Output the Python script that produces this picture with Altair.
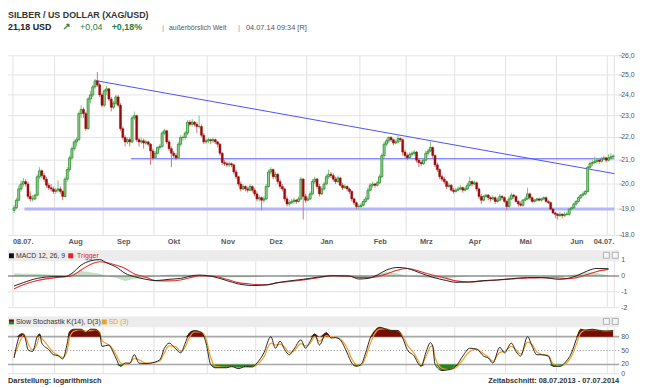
import altair as alt
import pandas as pd

# ---------------- price data (daily OHLC, trading-day index 0..259) ----------------
opens = [18.95, 19.05, 19.35, 19.8, 20.0, 20.1, 20.0, 19.5, 19.4, 19.4,
         19.55, 20.3, 20.55, 20.35, 20.2, 19.95, 19.85, 19.8, 19.7, 19.75,
         19.8, 19.7, 19.5, 20.2, 20.6, 21.1, 21.5, 21.8, 21.9, 23.1,
         23.3, 23.1, 22.4, 23.8, 24.0, 24.4, 24.7, 24.5, 24.0, 23.5,
         24.2, 24.3, 23.8, 23.4, 23.6, 23.9, 23.5, 22.4, 22.0, 21.8,
         21.9, 21.8, 22.9, 23.0, 21.9, 21.8, 21.85, 21.75, 21.8, 21.7,
         21.4, 21.1, 21.3, 21.55, 21.6, 22.2, 22.3, 21.8, 21.5, 21.3,
         21.2, 21.1, 21.7, 22.0, 22.0, 22.2, 22.7, 22.6, 22.7, 22.6,
         22.5, 22.5, 22.1, 21.8, 21.85, 21.9, 21.85, 21.9, 21.8, 21.7,
         21.3, 20.9, 20.85, 20.8, 20.85, 20.8, 20.5, 20.3, 20.0, 19.8,
         19.9, 19.8, 19.75, 19.9, 19.75, 19.6, 19.4, 19.45, 19.35, 19.4,
         19.9, 20.5, 20.6, 20.3, 20.4, 20.1, 19.9, 19.8, 19.4, 19.2,
         19.25, 19.3, 19.35, 19.3, 19.4, 20.2, 19.5, 19.35, 19.4, 19.6,
         20.1, 20.2, 19.9, 19.6, 19.8, 20.0, 20.3, 20.4, 20.35, 20.2,
         20.1, 20.25, 19.95, 19.85, 19.9, 19.8, 19.7, 19.4, 19.25, 19.1,
         19.1, 19.15, 19.3, 19.4, 19.75, 19.95, 20.0, 19.95, 20.05, 20.3,
         21.2, 21.7, 21.85, 22.0, 21.9, 21.75, 21.8, 21.95, 21.9, 21.35,
         21.2, 21.1, 21.25, 21.3, 21.35, 21.0, 20.9, 20.85, 21.0, 21.3,
         21.4, 21.55, 21.2, 20.8, 20.6, 20.3, 20.2, 20.1, 19.9, 19.95,
         19.75, 19.7, 19.75, 19.8, 19.85, 19.75, 19.8, 19.95, 20.1, 20.0,
         20.05, 19.8, 19.5, 19.35, 19.5, 19.55, 19.45, 19.4, 19.45, 19.3,
         19.35, 19.5, 19.45, 19.3, 19.1, 19.4, 19.55, 19.5, 19.3, 19.2,
         19.15, 19.35, 19.4, 19.6, 19.45, 19.3, 19.35, 19.4, 19.35, 19.4,
         19.45, 19.3, 19.25, 19.0, 18.85, 18.8, 18.75, 18.8, 18.75, 18.8,
         18.8, 19.0, 19.05, 19.2, 19.3, 19.45, 19.55, 19.6, 19.7, 20.7,
         20.85, 20.9, 20.95, 21.0, 20.95, 21.05, 21.1, 21.0, 21.1, 21.15]
highs = [19.15, 19.45, 19.95, 20.15, 20.25, 20.2, 20.1, 19.7, 19.55, 19.6,
         20.4, 20.7, 20.6, 20.45, 20.3, 20.05, 20.0, 19.9, 19.85, 20.15,
         19.9, 19.75, 20.3, 20.7, 21.2, 21.6, 21.9, 22.0, 23.2, 23.5,
         23.4, 23.2, 23.9, 24.2, 24.5, 24.8, 25.15, 24.6, 24.1, 24.3,
         24.45, 24.35, 23.9, 23.7, 24.0, 24.0, 23.6, 22.5, 22.1, 22.0,
         22.0, 23.0, 23.2, 23.05, 22.0, 22.0, 21.95, 21.9, 21.85, 21.75,
         21.5, 21.4, 21.6, 21.7, 22.3, 22.4, 22.35, 21.9, 21.6, 21.4,
         21.3, 21.8, 22.1, 22.1, 22.3, 22.8, 22.8, 22.85, 22.75, 22.7,
         23.0, 22.6, 22.2, 21.95, 22.0, 21.95, 22.0, 21.95, 21.85, 21.75,
         21.35, 21.0, 20.95, 20.95, 20.9, 20.85, 20.6, 20.35, 20.1, 20.0,
         19.95, 19.9, 20.0, 19.95, 19.85, 19.7, 19.55, 19.5, 19.5, 20.0,
         20.6, 20.7, 20.65, 20.5, 20.45, 20.2, 20.0, 19.85, 19.5, 19.35,
         19.4, 19.45, 19.4, 19.5, 20.3, 20.25, 19.6, 19.5, 19.7, 20.2,
         20.3, 20.25, 20.0, 19.9, 20.1, 20.4, 20.6, 20.5, 20.45, 20.3,
         20.35, 20.3, 20.05, 20.0, 19.95, 19.85, 19.75, 19.45, 19.3, 19.2,
         19.25, 19.4, 19.5, 19.85, 20.05, 20.1, 20.05, 20.15, 20.4, 21.3,
         21.8, 21.95, 22.05, 22.05, 21.95, 21.9, 22.15, 22.0, 21.95, 21.45,
         21.3, 21.35, 21.4, 21.45, 21.4, 21.1, 21.0, 21.1, 21.4, 21.5,
         21.8, 21.6, 21.25, 20.9, 20.65, 20.4, 20.3, 20.15, 20.05, 20.0,
         19.85, 19.85, 19.9, 19.95, 19.9, 19.9, 20.05, 20.3, 20.15, 20.15,
         20.1, 19.85, 19.6, 19.55, 19.6, 19.6, 19.5, 19.55, 19.5, 19.45,
         19.6, 19.55, 19.5, 19.35, 19.5, 19.65, 19.6, 19.55, 19.35, 19.3,
         19.4, 19.5, 19.85, 19.65, 19.5, 19.4, 19.45, 19.45, 19.45, 19.5,
         19.5, 19.35, 19.3, 19.05, 18.9, 18.85, 18.9, 18.85, 18.9, 18.9,
         19.05, 19.1, 19.25, 19.35, 19.5, 19.6, 19.7, 19.75, 20.75, 20.95,
         21.0, 21.15, 21.1, 21.05, 21.15, 21.2, 21.15, 21.25, 21.3, 21.25]
lows = [18.85, 19.0, 19.3, 19.7, 19.9, 19.9, 19.4, 19.3, 19.3, 19.35,
        19.5, 20.2, 20.25, 20.1, 19.85, 19.75, 19.7, 19.6, 19.6, 19.65,
        19.6, 19.35, 19.45, 20.1, 20.5, 21.0, 21.4, 21.6, 21.85, 22.9,
        22.9, 22.3, 22.35, 23.6, 23.9, 24.3, 24.4, 23.9, 23.4, 23.4,
        24.0, 23.7, 23.2, 23.3, 23.5, 23.4, 22.3, 21.9, 21.6, 21.7,
        21.6, 21.75, 22.8, 21.8, 21.6, 21.7, 21.5, 21.65, 21.6, 20.8,
        21.0, 21.05, 21.25, 21.45, 21.55, 22.1, 21.7, 21.4, 20.7, 21.1,
        21.0, 21.05, 21.6, 21.85, 21.9, 22.1, 22.5, 22.5, 22.5, 22.2,
        22.4, 22.0, 21.7, 21.7, 21.75, 21.7, 21.75, 21.7, 21.55, 21.2,
        20.8, 20.75, 20.7, 20.7, 20.7, 20.4, 20.2, 19.9, 19.7, 19.75,
        19.7, 19.65, 19.7, 19.65, 19.5, 19.3, 19.3, 18.95, 19.25, 19.35,
        19.85, 20.4, 20.2, 20.2, 20.0, 19.8, 19.7, 19.3, 19.1, 19.1,
        19.2, 19.2, 19.2, 19.25, 19.35, 18.6, 19.25, 19.3, 19.35, 19.55,
        20.0, 19.8, 19.5, 19.55, 19.75, 19.95, 20.2, 20.25, 20.1, 20.0,
        20.05, 19.9, 19.75, 19.8, 19.7, 19.6, 19.3, 19.15, 19.0, 19.0,
        19.05, 19.1, 19.25, 19.35, 19.7, 19.85, 19.85, 19.9, 20.0, 20.25,
        21.1, 21.6, 21.75, 21.8, 21.65, 21.7, 21.75, 21.8, 21.2, 21.1,
        21.0, 21.05, 21.15, 21.2, 20.9, 20.7, 20.75, 20.8, 20.95, 21.2,
        21.35, 21.1, 20.7, 20.5, 20.2, 20.1, 20.0, 19.8, 19.85, 19.7,
        19.6, 19.65, 19.7, 19.75, 19.65, 19.7, 19.75, 19.9, 19.9, 19.95,
        19.7, 19.4, 19.2, 19.3, 19.45, 19.35, 19.3, 19.35, 19.2, 19.25,
        19.3, 19.35, 19.25, 18.95, 19.05, 19.35, 19.4, 19.25, 19.1, 19.1,
        19.1, 19.3, 19.35, 19.35, 19.25, 19.25, 19.3, 19.3, 19.3, 19.35,
        19.25, 19.2, 18.95, 18.8, 18.65, 18.6, 18.7, 18.65, 18.7, 18.75,
        18.75, 18.95, 19.0, 19.15, 19.25, 19.4, 19.5, 19.55, 19.65, 20.6,
        20.75, 20.85, 20.85, 20.85, 20.9, 21.0, 20.9, 20.95, 21.05, 21.05]
closes = [19.05, 19.35, 19.8, 20.0, 20.1, 20.0, 19.5, 19.4, 19.4, 19.55,
          20.3, 20.55, 20.35, 20.2, 19.95, 19.85, 19.8, 19.7, 19.75, 19.8,
          19.7, 19.5, 20.2, 20.6, 21.1, 21.5, 21.8, 21.9, 23.1, 23.3,
          23.1, 22.4, 23.8, 24.0, 24.4, 24.7, 24.5, 24.0, 23.5, 24.2,
          24.3, 23.8, 23.4, 23.6, 23.9, 23.5, 22.4, 22.0, 21.8, 21.9,
          21.8, 22.9, 23.0, 21.9, 21.8, 21.85, 21.75, 21.8, 21.7, 21.4,
          21.1, 21.3, 21.55, 21.6, 22.2, 22.3, 21.8, 21.5, 21.3, 21.2,
          21.1, 21.7, 22.0, 22.0, 22.2, 22.7, 22.6, 22.7, 22.6, 22.5,
          22.5, 22.1, 21.8, 21.85, 21.9, 21.85, 21.9, 21.8, 21.7, 21.3,
          20.9, 20.85, 20.8, 20.85, 20.8, 20.5, 20.3, 20.0, 19.8, 19.9,
          19.8, 19.75, 19.9, 19.75, 19.6, 19.4, 19.45, 19.35, 19.4, 19.9,
          20.5, 20.6, 20.3, 20.4, 20.1, 19.9, 19.8, 19.4, 19.2, 19.25,
          19.3, 19.35, 19.3, 19.4, 20.2, 19.5, 19.35, 19.4, 19.6, 20.1,
          20.2, 19.9, 19.6, 19.8, 20.0, 20.3, 20.4, 20.35, 20.2, 20.1,
          20.25, 19.95, 19.85, 19.9, 19.8, 19.7, 19.4, 19.25, 19.1, 19.1,
          19.15, 19.3, 19.4, 19.75, 19.95, 20.0, 19.95, 20.05, 20.3, 21.2,
          21.7, 21.85, 22.0, 21.9, 21.75, 21.8, 21.95, 21.9, 21.35, 21.2,
          21.1, 21.25, 21.3, 21.35, 21.0, 20.9, 20.85, 21.0, 21.3, 21.4,
          21.55, 21.2, 20.8, 20.6, 20.3, 20.2, 20.1, 19.9, 19.95, 19.75,
          19.7, 19.75, 19.8, 19.85, 19.75, 19.8, 19.95, 20.1, 20.0, 20.05,
          19.8, 19.5, 19.35, 19.5, 19.55, 19.45, 19.4, 19.45, 19.3, 19.35,
          19.5, 19.45, 19.3, 19.1, 19.4, 19.55, 19.5, 19.3, 19.2, 19.15,
          19.35, 19.4, 19.6, 19.45, 19.3, 19.35, 19.4, 19.35, 19.4, 19.45,
          19.3, 19.25, 19.0, 18.85, 18.8, 18.75, 18.8, 18.75, 18.8, 18.8,
          19.0, 19.05, 19.2, 19.3, 19.45, 19.55, 19.6, 19.7, 20.7, 20.85,
          20.9, 20.95, 21.0, 20.95, 21.05, 21.1, 21.0, 21.1, 21.15, 21.18]

# trend lines (trading-day index, price)
trend_idx = [36, 260]
trend_val = [24.71, 20.43]
resist_idx = [51, 260]
resist_val = [21.06, 21.06]
support_idx = [5, 260]
support_val = [19.0, 19.0]

# axis data
grid_idx = [0, 18, 39, 61, 84, 105, 127, 150, 170, 191, 213, 235, 257, 260]
month_idx = [18, 39, 61, 84, 105, 127, 150, 170, 191, 213, 235]
month_names = ["Aug", "Sep", "Okt", "Nov", "Dez", "Jan", "Feb", "Mrz", "Apr", "Mai", "Jun"]
first_label, last_label = "08.07.", "04.07."
price_ticks = [18, 19, 20, 21, 22, 23, 24, 25, 26]
price_tick_labels = ["18,0", "19,0", "20,0", "21,0", "22,0", "23,0", "24,0", "25,0", "26,0"]
macd_ticks = [1, 0, -1, -2]
macd_tick_labels = ["1", "0", "-1", "-2"]
stoch_ticks = [80, 50, 20, 0]
stoch_tick_labels = ["80", "50", "20", "0"]

# MACD (12,26,9) and trigger, read roughly weekly
macd_idx = [0, 4, 10, 18, 22, 25, 29, 33, 37, 40, 44, 48, 52, 57, 61, 67, 72, 78, 80, 86,
            92, 97, 103, 109, 114, 119, 125, 131, 138, 145, 149, 153, 157, 161, 166, 170, 176, 181, 187, 191,
            197, 203, 209, 215, 222, 228, 236, 240, 244, 248, 252, 257]
macd_val = [-0.63, -0.42, -0.15, -0.04, -0.04, 0.17, 0.69, 0.96, 1.04, 0.83,
            0.58, 0.17, -0.04, -0.21, -0.29, -0.21, -0.15, 0.04, 0.06, -0.04,
            -0.29, -0.5, -0.6, -0.56, -0.42, -0.31, -0.21, -0.08, 0.02, 0.0,
            -0.19, -0.15, 0.06, 0.38, 0.54, 0.48, 0.17, -0.08, -0.29, -0.4,
            -0.38, -0.29, -0.25, -0.17, -0.1, -0.1, -0.21, -0.13, 0.06, 0.33,
            0.48, 0.46]
trigger_val = [-0.81, -0.56, -0.29, -0.1, -0.04, 0.02, 0.38, 0.73, 0.9, 0.85,
               0.69, 0.48, 0.13, -0.08, -0.29, -0.31, -0.25, -0.04, 0.02, 0.0,
               -0.21, -0.42, -0.52, -0.56, -0.42, -0.35, -0.25, -0.13, 0.02, -0.02,
               -0.1, -0.1, -0.04, 0.13, 0.38, 0.48, 0.27, 0.06, -0.15, -0.31,
               -0.38, -0.31, -0.25, -0.19, -0.13, -0.1, -0.13, -0.17, -0.08, 0.1,
               0.29, 0.42]

# Slow stochastic K(14), D(3)
stoch_idx = [0, 1, 3, 4, 5, 6, 8, 10, 11, 12, 15, 17, 19, 21, 23, 24, 26, 29, 31, 33,
             35, 37, 38, 41, 42, 44, 46, 48, 50, 52, 54, 57, 59, 63, 65, 67, 70, 72, 74, 76,
             78, 81, 83, 85, 87, 92, 94, 97, 100, 103, 105, 108, 111, 113, 115, 117, 119, 121, 124, 126,
             128, 130, 132, 135, 137, 139, 141, 144, 146, 148, 150, 152, 154, 156, 158, 161, 163, 166, 168, 170,
             173, 175, 176, 178, 180, 181, 182, 185, 188, 191, 194, 197, 200, 203, 205, 207, 210, 212, 215, 217,
             219, 222, 224, 226, 228, 231, 233, 236, 238, 241, 243, 245, 247, 250, 253, 256, 259]
stoch_k = [34, 59, 86, 86, 73, 52, 48, 80, 86, 66, 52, 41, 39, 32, 66, 91, 96, 96, 89, 96,
           96, 87, 59, 62, 55, 34, 16, 23, 23, 41, 23, 22, 23, 30, 55, 66, 53, 45, 66, 89,
           93, 89, 66, 20, 13, 13, 16, 11, 16, 15, 23, 45, 80, 55, 70, 52, 41, 53, 73, 55,
           70, 86, 62, 89, 77, 78, 73, 45, 23, 16, 20, 45, 77, 93, 100, 96, 93, 93, 77, 52,
           38, 20, 16, 45, 67, 59, 20, 7, 9, 16, 38, 55, 53, 38, 34, 23, 57, 45, 66, 48,
           38, 80, 59, 41, 41, 38, 16, 16, 23, 45, 73, 96, 94, 96, 93, 92, 93]
stoch_d = [40, 50, 75, 84, 80, 66, 52, 65, 80, 76, 58, 46, 40, 35, 50, 78, 92, 95, 92, 93,
           95, 90, 72, 62, 58, 42, 24, 20, 22, 33, 30, 23, 23, 28, 45, 60, 58, 48, 58, 80,
           90, 90, 75, 35, 16, 14, 15, 13, 14, 15, 19, 36, 66, 62, 64, 57, 46, 49, 65, 60,
           65, 80, 70, 82, 80, 78, 75, 55, 32, 20, 18, 36, 65, 87, 96, 97, 94, 93, 82, 62,
           44, 26, 19, 36, 58, 60, 35, 12, 9, 13, 30, 48, 53, 43, 36, 27, 46, 48, 59, 52,
           42, 68, 63, 47, 42, 39, 22, 17, 20, 37, 62, 88, 94, 95, 94, 92, 93]

# ---------------- frames ----------------
price = pd.DataFrame({"i": [k + 0.5 for k in range(len(closes))],
                      "o": opens, "h": highs, "l": lows, "c": closes})
macd = pd.DataFrame({"i": [k + 0.5 for k in macd_idx], "m": macd_val, "s": trigger_val})
stoch = pd.DataFrame({"i": [k + 0.5 for k in stoch_idx], "k": stoch_k, "d": stoch_d})

XL, XR = 0, 619
XS = alt.Scale(domain=[0, 260], range=[XL, XR], nice=False, zero=False)
PY = alt.Scale(type="log", domain=[18, 26], range=[228, 46], nice=False)
MY = alt.Scale(domain=[-2, 1], range=[301, 253], nice=False, zero=False)
SY = alt.Scale(domain=[0, 100], range=[368, 321], nice=False, zero=False)
P_TOP, P_BOT = 46, 228
M_TOP, M_BOT = 254, 301
S_TOP, S_BOT = 321, 368


def X(f):
    return alt.X(f, type="quantitative", scale=XS, axis=None)


def Y(f, sc):
    return alt.Y(f, type="quantitative", scale=sc, axis=None)


def one():
    return pd.DataFrame({"a": [0]})


def label(s, x, y, size=7.0, weight="normal", color="#555555", align="left",
          font="Liberation Sans", baseline="alphabetic"):
    return alt.Chart(pd.DataFrame({"t": [s]})).mark_text(
        align=align, baseline=baseline, fontSize=size, fontWeight=weight,
        color=color, font=font).encode(x=alt.value(x), y=alt.value(y), text="t:N")


def box(x1, x2, y1, y2, fill, stroke=None):
    kw = dict(fill=fill)
    if stroke:
        kw.update(stroke=stroke, strokeWidth=0.8)
    return alt.Chart(one()).mark_rect(**kw).encode(
        x=alt.value(x1), x2=alt.value(x2), y=alt.value(y1), y2=alt.value(y2))


def hrules(vals, sc, color, width=1.0, dash=None, x1=XL, x2=XR):
    kw = dict(color=color, strokeWidth=width)
    if dash:
        kw["strokeDash"] = dash
    return alt.Chart(pd.DataFrame({"v": vals})).mark_rule(**kw).encode(
        y=Y("v", sc), x=alt.value(x1), x2=alt.value(x2))


def vgrid(top, bot):
    return alt.Chart(pd.DataFrame({"g": grid_idx})).mark_rule(
        color="#e2e2e2", strokeWidth=1).encode(x=X("g"), y=alt.value(top), y2=alt.value(bot))


def seg(idx, vals, color, width):
    return alt.Chart(pd.DataFrame({"i": idx, "v": vals})).mark_line(
        color=color, strokeWidth=width).encode(x=X("i"), y=Y("v", PY))


layers = []

# panel header bands
layers += [box(XL, XR, 243, 254, "#ececec"), box(XL, XR, 310, 321, "#ececec")]

# gridlines
layers += [hrules(price_ticks, PY, "#e4e4e4"), vgrid(P_TOP, P_BOT),
           vgrid(M_TOP, M_BOT), vgrid(S_TOP, S_BOT),
           hrules([-1, -2], MY, "#e2e2e2"), hrules([0], SY, "#dddddd")]

# trend / support / resistance lines
layers += [seg(support_idx, support_val, "#b4b4ff", 3),
           seg(resist_idx, resist_val, "#5a5aff", 1),
           seg(trend_idx, trend_val, "#4f4ff5", 1)]

# candles
up = "datum.c >= datum.o"
down = "datum.c < datum.o"
base = alt.Chart(price)
layers += [
    base.transform_filter(up).mark_rule(color="#7fc27c", strokeWidth=1).encode(
        x=X("i"), y=Y("l", PY), y2="h"),
    base.transform_filter(down).mark_rule(color="#cc7878", strokeWidth=1).encode(
        x=X("i"), y=Y("l", PY), y2="h"),
    base.transform_filter(up).mark_bar(size=2, fill="#9fd49a", stroke="#238a26",
                                       strokeWidth=0.8).encode(x=X("i"), y=Y("o", PY), y2="c"),
    base.transform_filter(down).mark_bar(size=2, fill="#990a0a", stroke="#990a0a",
                                         strokeWidth=0.5).encode(x=X("i"), y=Y("o", PY), y2="c"),
]

# MACD panel
mb = alt.Chart(macd)
layers += [
    mb.transform_calculate(hist="datum.m - datum.s", zero="0").mark_area(
        color="#7fb87f", opacity=0.45).encode(x=X("i"), y=Y("hist:Q", MY), y2="zero:Q"),
    hrules([0], MY, "#555555", 1),
    mb.mark_line(color="#e53030", strokeWidth=1.1, interpolate="monotone").encode(
        x=X("i"), y=Y("s", MY)),
    mb.mark_line(color="#222222", strokeWidth=1, interpolate="monotone").encode(
        x=X("i"), y=Y("m", MY)),
]

# Stochastic panel
sb = alt.Chart(stoch)
layers += [
    hrules([80, 20], SY, "#a8a8a8", 1.6),
    hrules([50], SY, "#8a8a8a", 1, dash=[1, 2]),
    sb.transform_calculate(top="max(datum.k, 80)", b80="80").mark_area(
        color="#780c00", interpolate="monotone").encode(x=X("i"), y=Y("top:Q", SY), y2="b80:Q"),
    sb.transform_calculate(bot="min(datum.k, 20)", b20="20").mark_area(
        color="#1c8a1c", interpolate="monotone").encode(x=X("i"), y=Y("bot:Q", SY), y2="b20:Q"),
    sb.mark_line(color="#f0a028", strokeWidth=1.2, interpolate="monotone").encode(
        x=X("i"), y=Y("d", SY)),
    sb.mark_line(color="#262626", strokeWidth=1, interpolate="monotone").encode(
        x=X("i"), y=Y("k", SY)),
]

# right axis labels and ticks
def ylabels(vals, texts, sc):
    return alt.Chart(pd.DataFrame({"v": vals, "t": texts})).mark_text(
        align="left", baseline="middle", fontSize=7, color="#555555",
        font="Liberation Sans").encode(y=Y("v", sc), x=alt.value(621), text="t:N")


layers += [hrules(price_ticks, PY, "#aaaaaa", 1, x1=XR, x2=XR + 3),
           ylabels(price_ticks, price_tick_labels, PY),
           ylabels(macd_ticks, macd_tick_labels, MY),
           ylabels(stoch_ticks, stoch_tick_labels, SY)]

# month labels
layers += [
    alt.Chart(pd.DataFrame({"g": month_idx, "t": month_names})).mark_text(
        align="left", dx=14, fontSize=7.5, fontWeight="bold", color="#5a5a5a",
        font="Liberation Sans").encode(x=X("g"), y=alt.value(235), text="t:N"),
    alt.Chart(pd.DataFrame({"g": [0], "t": [first_label]})).mark_text(
        align="left", fontSize=7.5, fontWeight="bold", color="#5a5a5a",
        font="Liberation Sans").encode(x=X("g"), y=alt.value(235), text="t:N"),
    alt.Chart(pd.DataFrame({"g": [260], "t": [last_label]})).mark_text(
        align="right", fontSize=7.5, fontWeight="bold", color="#5a5a5a",
        font="Liberation Sans").encode(x=X("g"), y=alt.value(235), text="t:N"),
]

# panel header legends and icons
layers += [
    box(1, 6, 246, 251, "#111111"),
    label("MACD 12, 26, 9", 8, 251, 7, color="#333333"),
    box(61, 66, 246, 251, "#ee2020"),
    label("Trigger", 70, 251, 7, color="#e02020"),
    box(1, 6, 313, 315.5, "#7a0c00"),
    box(1, 6, 315.5, 318, "#1c8a1c"),
    label("Slow Stochastik K(14), D(3)", 8, 318, 7, color="#333333"),
    box(95, 100, 313, 318, "#f0a028"),
    label("SD (3)", 102, 318, 7, color="#f0a028"),
    box(603, 609, 245, 251, "#f6f6f6", "#a0a0a0"),
    box(612, 618, 245, 251, "#f6f6f6", "#a0a0a0"),
    box(603, 609, 312, 318, "#f6f6f6", "#a0a0a0"),
    box(612, 618, 312, 318, "#f6f6f6", "#a0a0a0"),
]

# header texts
green = "#1f8040"
layers += [
    label("SILBER / US DOLLAR (XAG/USD)", 0, 8, 9, "bold", "#333333"),
    label("21,18", 0, 20, 9, "bold", "#222222"),
    label("USD", 25, 20, 9, "bold", "#222222"),
    label("\u2197", 55, 20, 10, "bold", green, font="DejaVu Sans"),
    label("+0,04", 73, 20, 9, "normal", green),
    label("+0,18%", 105, 20, 9, "bold", green),
    label("|", 156, 20, 8, "normal", "#999999"),
    label("au\u00dferb\u00f6rslich Welt", 163, 20, 7, "normal", "#555555"),
    label("|", 233, 20, 8, "normal", "#999999"),
    label("04.07.14 09:34 [R]", 241, 20, 7.5, "normal", "#555555"),
    label("Darstellung: logarithmisch", 0, 377, 7.5, "bold", "#333333"),
    label("Zeitabschnitt: 08.07.2013 - 07.07.2014", XR, 377, 7.5, "bold", "#333333",
          align="right"),
]

chart = alt.layer(*layers).resolve_scale(y="independent").properties(
    width=637, height=380, autosize=alt.AutoSizeParams(type="none"), padding=0,
    background="white"
).configure_view(strokeWidth=0)

chart.save("out.html", embed_options={"renderer": "svg", "actions": False})
